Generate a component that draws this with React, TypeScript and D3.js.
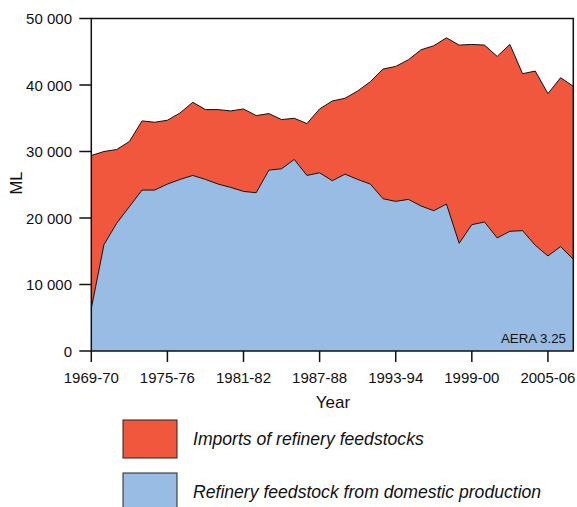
import React from "react";
import * as d3 from "d3";

const years: string[] = [
  "1969-70","1970-71","1971-72","1972-73","1973-74","1974-75","1975-76","1976-77","1977-78","1978-79",
  "1979-80","1980-81","1981-82","1982-83","1983-84","1984-85","1985-86","1986-87","1987-88","1988-89",
  "1989-90","1990-91","1991-92","1992-93","1993-94","1994-95","1995-96","1996-97","1997-98","1998-99",
  "1999-00","2000-01","2001-02","2002-03","2003-04","2004-05","2005-06","2006-07","2007-08",
];

// ML
const domestic: number[] = [
  6400, 16000, 19200, 21700, 24200, 24200, 25100, 25800, 26400, 25800,
  25100, 24600, 24000, 23800, 27200, 27400, 28800, 26400, 26800, 25600,
  26600, 25800, 25100, 22900, 22500, 22800, 21800, 21100, 22100, 16200,
  19000, 19400, 17000, 18000, 18100, 15900, 14300, 15700, 13800,
];

const imports: number[] = [
  23000, 14000, 11100, 9800, 10400, 10200, 9600, 10000, 11000, 10500,
  11200, 11500, 12400, 11600, 8500, 7400, 6200, 7800, 9600, 12000,
  11400, 13300, 15400, 19500, 20300, 21000, 23500, 24800, 25000, 29800,
  27100, 26600, 27300, 28100, 23600, 26200, 24400, 25400, 26000,
];

const yTicks: number[] = [0, 10000, 20000, 30000, 40000, 50000];
const xTickIdx: number[] = [0, 6, 12, 18, 24, 30, 36];

const legendItems = [
  { key: "imports", label: "Imports of refinery feedstocks" },
  { key: "domestic", label: "Refinery feedstock from domestic production" },
];

const COLORS: Record<string, string> = { domestic: "#98bce3", imports: "#f1573d" };

export default function App() {
  const W = 577, H = 507;
  const left = 91.3, right = 573.3, top = 18.5, bottom = 351;
  const x = d3.scaleLinear().domain([0, years.length - 1]).range([left, right]);
  const y = d3.scaleLinear().domain([0, 50000]).range([bottom, top]);

  const rows = years.map((yr, i) => ({ i, domestic: domestic[i], imports: imports[i] }));
  const stack = d3.stack<any>().keys(["domestic", "imports"]);
  const series = stack(rows);
  const area = d3.area<any>().x((d: any) => x(d.data.i)).y0((d: any) => y(d[0])).y1((d: any) => y(d[1]));
  const topLine = d3.line<any>().x((d: any) => x(d.data.i)).y((d: any) => y(d[1]));

  const fmt = (v: number) => (v === 0 ? "0" : d3.format(",")(v).replace(/,/g, " "));
  const font = "'Liberation Sans', Arial, Helvetica, sans-serif";

  return (
    <svg width={W} height={H} style={{ position: "absolute", left: 0, top: 0, background: "#fff" }} fontFamily={font}>
      {series.map((s: any) => (
        <path key={s.key} d={area(s) || ""} fill={COLORS[s.key]} />
      ))}
      {series.map((s: any) => (
        <path key={s.key + "l"} d={topLine(s) || ""} fill="none" stroke="#111" strokeWidth={1} strokeLinejoin="round" />
      ))}
      {/* frame */}
      <rect x={left} y={top} width={right - left} height={bottom - top} fill="none" stroke="#111" strokeWidth={1.5} />
      {/* y ticks */}
      {yTicks.map((t) => (
        <g key={t}>
          <line x1={left - 12} x2={left} y1={y(t)} y2={y(t)} stroke="#111" strokeWidth={1.5} />
          <text x={72} y={y(t) + 5.5} textAnchor="end" fontSize={15} fill="#111">{fmt(t)}</text>
        </g>
      ))}
      {/* x ticks */}
      {xTickIdx.map((i) => (
        <g key={i}>
          <line x1={x(i)} x2={x(i)} y1={bottom} y2={bottom + 11} stroke="#111" strokeWidth={1.5} />
          <text x={x(i)} y={383} textAnchor="middle" fontSize={15} fill="#111">{years[i]}</text>
        </g>
      ))}
      <text x={333} y={408} textAnchor="middle" fontSize={17} fill="#111">Year</text>
      <text transform={`translate(21.5,183) rotate(-90)`} textAnchor="middle" fontSize={16.5} fill="#111">ML</text>
      <text x={566} y={343} textAnchor="end" fontSize={13.3} fill="#111">AERA 3.25</text>
      {/* legend */}
      {legendItems.map((it, k) => (
        <g key={it.key}>
          <rect x={123} y={420 + k * 53} width={54} height={38} fill={COLORS[it.key]} stroke="#222" strokeWidth={1} />
          <text x={193} y={445 + k * 53} fontSize={17.6} fontStyle="italic" fill="#111">{it.label}</text>
        </g>
      ))}
    </svg>
  );
}
